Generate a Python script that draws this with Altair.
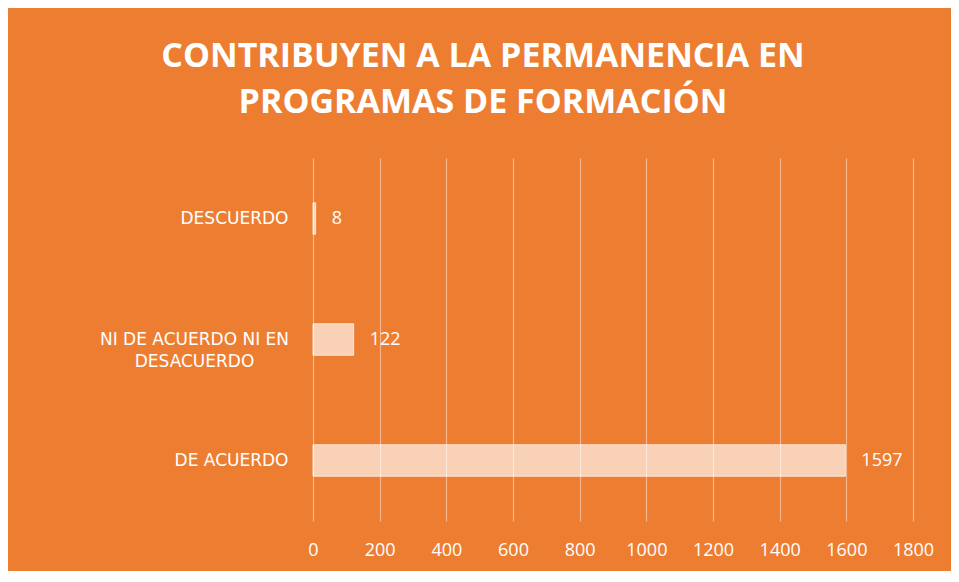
import altair as alt
import pandas as pd

categories = ["DESCUERDO", "NI DE ACUERDO NI EN DESACUERDO", "DE ACUERDO"]
values = [8, 122, 1597]
title_lines = ["CONTRIBUYEN  A LA PERMANENCIA  EN", "PROGRAMAS DE FORMACIÓN"]
x_ticks = [0, 200, 400, 600, 800, 1000, 1200, 1400, 1600, 1800]

df = pd.DataFrame({"cat": categories, "val": values})

long_label = "NI DE ACUERDO NI EN DESACUERDO"

y_enc = alt.Y(
    "cat:N",
    sort=categories,
    title=None,
    scale=alt.Scale(paddingInner=0.74, paddingOuter=0.37),
    axis=alt.Axis(
        domain=False,
        ticks=False,
        grid=False,
        labelColor="white",
        labelFont="DejaVu Sans",
        labelFontSize=17,
        labelLimit=400,
        labelLineHeight=22,
        labelExpr="datum.label == 'NI DE ACUERDO NI EN DESACUERDO' ? ['NI DE ACUERDO NI EN', 'DESACUERDO'] : datum.label",
        labelAlign=alt.condition(f"datum.value == '{long_label}'", alt.value("center"), alt.value("right")),
        labelPadding=alt.condition(f"datum.value == '{long_label}'", alt.value(119), alt.value(25)),
    ),
)

x_enc = alt.X(
    "val:Q",
    title=None,
    scale=alt.Scale(domain=[0, 1800], nice=False),
    axis=alt.Axis(
        values=x_ticks,
        format="d",
        labelOverlap=False,
        labelFlush=False,
        domain=False,
        ticks=False,
        grid=True,
        gridColor="white",
        gridOpacity=0.45,
        gridWidth=1.2,
        labelColor="white",
        labelFont="Open Sans",
        labelFontSize=18,
        labelPadding=20,
    ),
)

bars = alt.Chart(df).mark_bar(
    color="white", fillOpacity=0.65, stroke="white", strokeWidth=0.8, strokeOpacity=0.9
).encode(x=x_enc, y=y_enc)

texts = alt.Chart(df).mark_text(
    align="left", baseline="middle", dx=16, color="white", font="Open Sans", fontSize=18
).encode(x=alt.X("val:Q"), y=alt.Y("cat:N", sort=categories), text="val:Q")

chart = (
    alt.layer(bars, texts)
    .properties(
        width=600,
        height=363,
        background="#ED7D31",
        padding={"left": 305, "top": 150, "right": 38, "bottom": 50},
        autosize=alt.AutoSizeParams(type="none"),
        title=alt.TitleParams(
            text=title_lines,
            color="white",
            font="Open Sans",
            fontSize=34,
            fontWeight="bold",
            lineHeight=46,
            anchor="middle",
            dx=-130,
            offset=38,
        ),
    )
    .configure_view(stroke=None)
)

chart.save("out.html", embed_options={"renderer": "svg", "actions": False})
